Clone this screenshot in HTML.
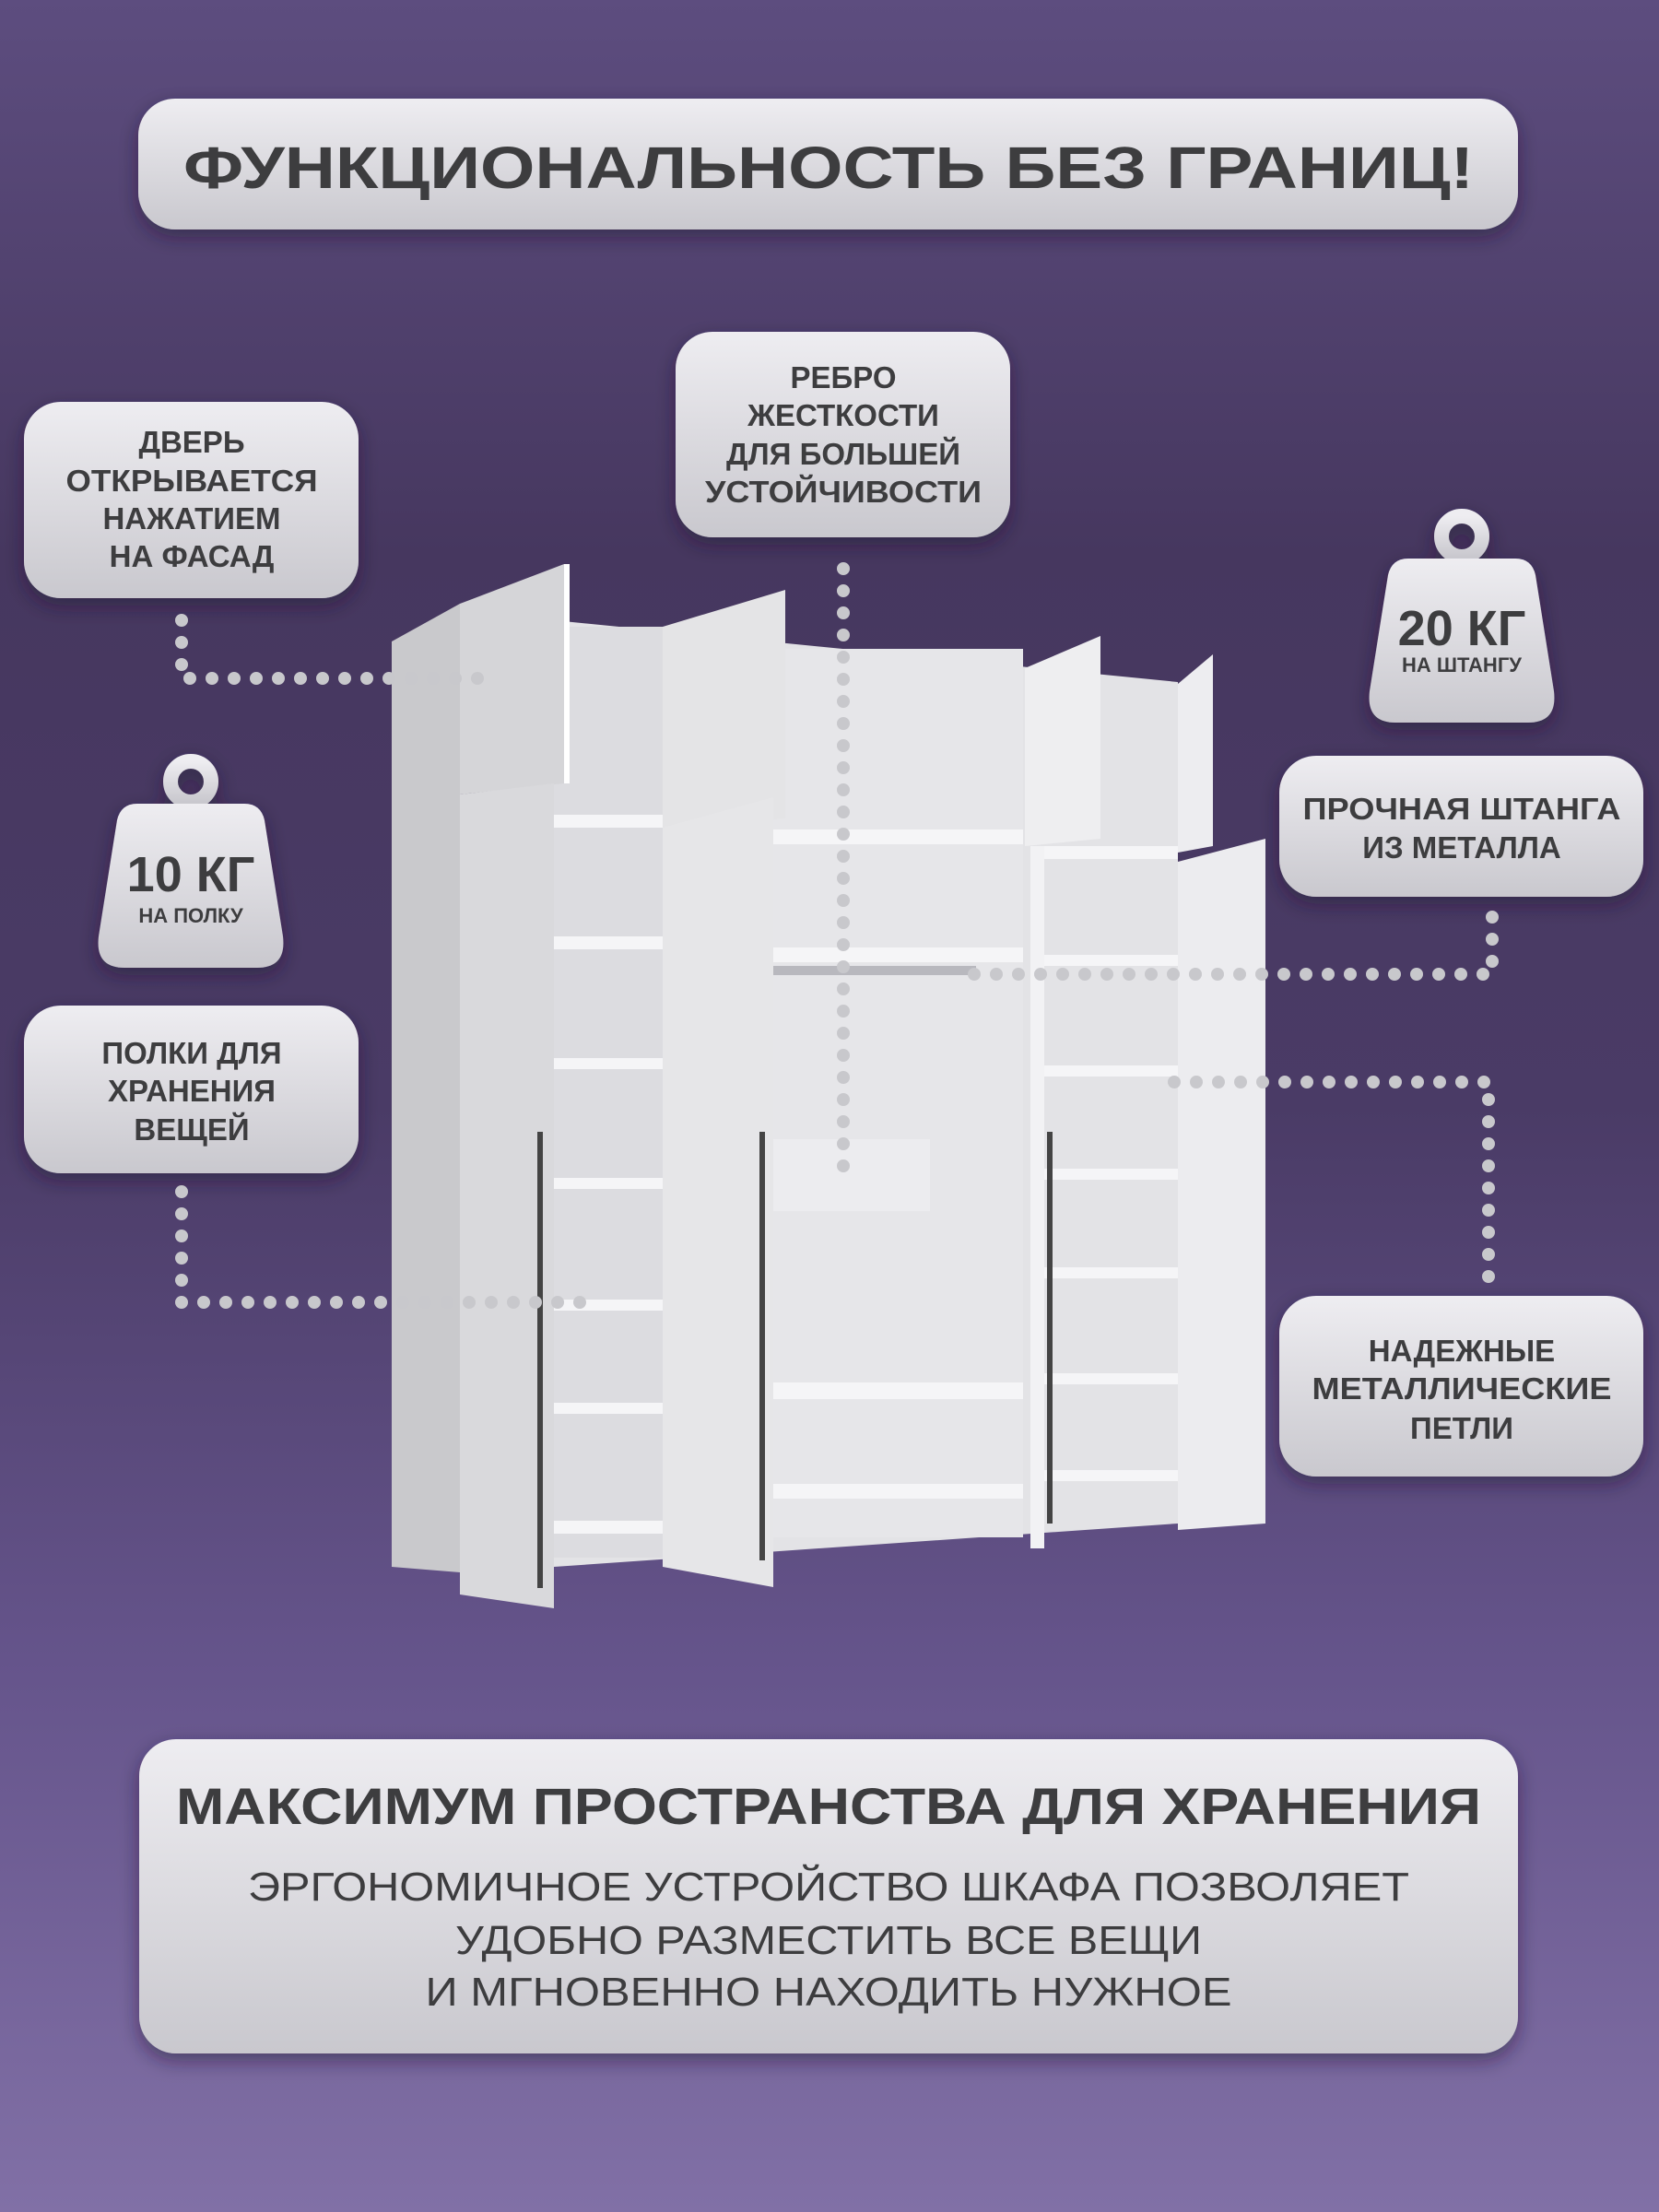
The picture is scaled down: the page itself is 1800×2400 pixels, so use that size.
<!DOCTYPE html>
<html><head><meta charset="utf-8"><style>
html,body{margin:0;padding:0;width:1800px;height:2400px;overflow:hidden}
svg{display:block}
text{font-family:"Liberation Sans","DejaVu Sans",sans-serif;fill:#3d3d3f;text-anchor:middle}
</style></head><body>
<svg width="1800" height="2400" viewBox="0 0 1800 2400" xmlns="http://www.w3.org/2000/svg">
<defs>
<linearGradient id="bg" x1="0" y1="0" x2="0" y2="1">
<stop offset="0" stop-color="#5d4d7f"/><stop offset="0.25" stop-color="#46375f"/><stop offset="0.5" stop-color="#4a3b66"/><stop offset="0.75" stop-color="#65548b"/><stop offset="1" stop-color="#8170a6"/></linearGradient>
<linearGradient id="bx" x1="0" y1="0" x2="0" y2="1"><stop offset="0" stop-color="#eeedf1"/><stop offset="1" stop-color="#c9c8ce"/></linearGradient>
<filter id="sh" x="-20%" y="-20%" width="140%" height="150%"><feDropShadow dx="0" dy="8" stdDeviation="10" flood-color="#1e1430" flood-opacity="0.5"/></filter>
<g id="wt"><circle cx="0" cy="0" r="22" fill="none" stroke="url(#bx)" stroke-width="16"/>
<path d="M-58,24 L58,24 Q76,24 80,42 L100,168 Q104,202 72,202 L-72,202 Q-104,202 -100,168 L-80,42 Q-76,24 -58,24 Z" fill="url(#bx)"/></g>
</defs>
<rect width="1800" height="2400" fill="url(#bg)"/>

<g filter="url(#sh)" fill="url(#bx)">
<rect x="150" y="107" width="1497" height="142" rx="40"/>
<rect x="26" y="436" width="363" height="213" rx="40"/>
<rect x="733" y="360" width="363" height="223" rx="40"/>
<rect x="1388" y="820" width="395" height="153" rx="40"/>
<rect x="26" y="1091" width="363" height="182" rx="40"/>
<rect x="1388" y="1406" width="395" height="196" rx="40"/>
<rect x="151" y="1887" width="1496" height="341" rx="40"/>
<use href="#wt" x="1586" y="582"/>
<use href="#wt" x="207" y="848"/>
</g>

<g>
<polygon points="425,696 499,655 499,1706 425,1700" fill="#c9c9cc"/>
<polygon points="601,673 1278,740 1278,1653 601,1700" fill="#e3e3e6"/>
<rect x="601" y="680" width="118" height="1010" fill="#dcdce0"/>
<rect x="839" y="704" width="271" height="964" fill="#e6e6e9"/>
<rect x="1133" y="742" width="145" height="911" fill="#e3e3e6"/>
<g fill="#f5f5f7">
<rect x="601" y="884" width="118" height="14"/><rect x="601" y="1016" width="118" height="14"/><rect x="601" y="1148" width="118" height="12"/><rect x="601" y="1278" width="118" height="12"/><rect x="601" y="1410" width="118" height="12"/><rect x="601" y="1522" width="118" height="12"/><rect x="601" y="1650" width="118" height="14"/>
<rect x="839" y="900" width="271" height="16"/><rect x="839" y="1028" width="271" height="16"/><rect x="839" y="1500" width="271" height="18"/><rect x="839" y="1610" width="271" height="16"/>
<rect x="1133" y="918" width="145" height="14"/><rect x="1133" y="1036" width="145" height="12"/><rect x="1133" y="1156" width="145" height="12"/><rect x="1133" y="1268" width="145" height="12"/><rect x="1133" y="1375" width="145" height="12"/><rect x="1133" y="1490" width="145" height="12"/><rect x="1133" y="1595" width="145" height="12"/>
<rect x="839" y="1236" width="170" height="78" fill="#ececef"/>
</g>
<rect x="839" y="1048" width="220" height="10" fill="#b8b8be"/>
<polygon points="499,655 612,612 612,850 499,862" fill="#d5d5d8"/>
<polygon points="499,862 601,850 601,1745 499,1730" fill="#d9d9dc"/>
<rect x="612" y="612" width="6" height="238" fill="#fff"/>
<polygon points="719,680 852,640 852,888 719,898" fill="#e4e4e6"/>
<polygon points="719,898 839,865 839,1722 719,1700" fill="#e6e6e8"/>
<polygon points="1112,725 1194,690 1194,910 1112,918" fill="#eeeef0"/>
<polygon points="1133,918 1133,1680 1118,1680 1118,918" fill="#f2f2f4"/>
<polygon points="1278,742 1316,710 1316,918 1278,925" fill="#ededf0"/>
<polygon points="1278,935 1373,910 1373,1653 1278,1660" fill="#ececef"/>
<rect x="583" y="1228" width="6" height="495" fill="#444"/>
<rect x="824" y="1228" width="6" height="465" fill="#444"/>
<rect x="1136" y="1228" width="6" height="425" fill="#444"/>
</g>

<g stroke="#c8c8cc" stroke-width="14" stroke-linecap="round" stroke-dasharray="0 24" fill="none">
<path d="M197,673 L197,736 L530,736"/>
<path d="M915,617 L915,1280"/>
<path d="M1619,995 L1619,1057 L1056,1057"/>
<path d="M1615,1385 L1615,1174 L1270,1174"/>
<path d="M197,1293 L197,1413 L650,1413"/>
</g>

<text x="899" y="204" font-size="64" font-weight="bold" textLength="1400" lengthAdjust="spacingAndGlyphs">ФУНКЦИОНАЛЬНОСТЬ БЕЗ ГРАНИЦ!</text>
<g font-size="33" font-weight="bold">
<text x="208" y="491">ДВЕРЬ</text><text x="208" y="533" textLength="273" lengthAdjust="spacingAndGlyphs">ОТКРЫВАЕТСЯ</text><text x="208" y="574">НАЖАТИЕМ</text><text x="208" y="615">НА ФАСАД</text>
<text x="915" y="421">РЕБРО</text><text x="915" y="462">ЖЕСТКОСТИ</text><text x="915" y="504">ДЛЯ БОЛЬШЕЙ</text><text x="915" y="545" textLength="300" lengthAdjust="spacingAndGlyphs">УСТОЙЧИВОСТИ</text>
<text x="1586" y="889" textLength="345" lengthAdjust="spacingAndGlyphs">ПРОЧНАЯ ШТАНГА</text><text x="1586" y="931">ИЗ МЕТАЛЛА</text>
<text x="208" y="1154">ПОЛКИ ДЛЯ</text><text x="208" y="1195">ХРАНЕНИЯ</text><text x="208" y="1237">ВЕЩЕЙ</text>
<text x="1586" y="1477">НАДЕЖНЫЕ</text><text x="1586" y="1518" textLength="325" lengthAdjust="spacingAndGlyphs">МЕТАЛЛИЧЕСКИЕ</text><text x="1586" y="1561">ПЕТЛИ</text>
</g>
<text x="1586" y="700" font-size="54" font-weight="bold">20 КГ</text>
<text x="1586" y="729" font-size="22" font-weight="bold">НА ШТАНГУ</text>
<text x="207" y="967" font-size="54" font-weight="bold">10 КГ</text>
<text x="207" y="1001" font-size="22" font-weight="bold">НА ПОЛКУ</text>
<text x="899" y="1979" font-size="56" font-weight="bold" textLength="1416" lengthAdjust="spacingAndGlyphs">МАКСИМУМ ПРОСТРАНСТВА ДЛЯ ХРАНЕНИЯ</text>
<g font-size="44">
<text x="899" y="2062" textLength="1260" lengthAdjust="spacingAndGlyphs">ЭРГОНОМИЧНОЕ УСТРОЙСТВО ШКАФА ПОЗВОЛЯЕТ</text>
<text x="899" y="2120" textLength="810" lengthAdjust="spacingAndGlyphs">УДОБНО РАЗМЕСТИТЬ ВСЕ ВЕЩИ</text>
<text x="899" y="2176" textLength="875" lengthAdjust="spacingAndGlyphs">И МГНОВЕННО НАХОДИТЬ НУЖНОЕ</text>
</g>
</svg>
</body></html>
